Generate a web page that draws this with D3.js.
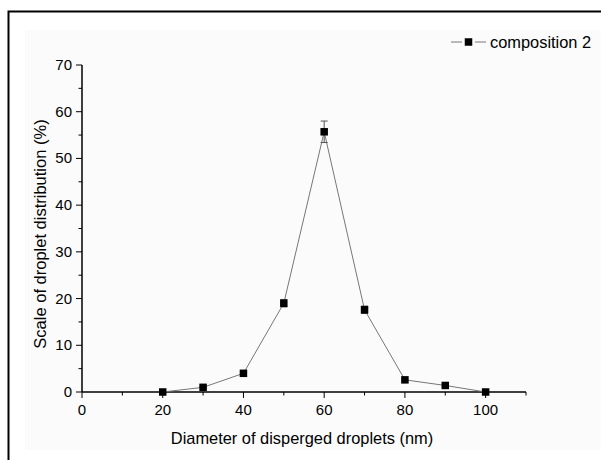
<!DOCTYPE html>
<html>
<head>
<meta charset="utf-8">
<script src="https://cdn.jsdelivr.net/npm/d3@7"></script>
<style>
  body { margin: 0; background: #fff; }
  text { font-family: "Liberation Sans", Arial, sans-serif; }
</style>
</head>
<body>
<script>
const diameters = [20, 30, 40, 50, 60, 70, 80, 90, 100];
const shares = [0, 1.0, 4.0, 19.0, 55.7, 17.6, 2.6, 1.4, 0];
const errors = [0, 0.2, 0.3, 0.8, 2.3, 0.8, 0.2, 0.2, 0];
const xTicks = [0, 20, 40, 60, 80, 100];
const yTicks = [0, 10, 20, 30, 40, 50, 60, 70];
const seriesName = "composition 2";

document.addEventListener("DOMContentLoaded", () => {
  const w = 601;
  const h = 460;

  const svg = d3.select("body")
  .append("svg")
  .attr("width", w)
  .attr("height", h);

  // faint panel behind the plot
  svg.append("rect")
  .attr("x", 25)
  .attr("y", 30)
  .attr("width", 600)
  .attr("height", 420)
  .attr("fill", "#fbfbfb");

  // outer frame, runs off right and bottom edges
  svg.append("rect")
  .attr("x", 8.5)
  .attr("y", 11.5)
  .attr("width", 620)
  .attr("height", 480)
  .attr("fill", "none")
  .attr("stroke", "#000")
  .attr("stroke-width", 2);

  const x = d3.scaleLinear().domain([0, 110]).range([82, 526]);
  const y = d3.scaleLinear().domain([0, 70]).range([392, 65]);

  const data = diameters.map((d, i) => ({x: d, y: shares[i], e: errors[i]}));

  // x axis with minor ticks
  const gx = svg.append("g").attr("transform", `translate(0,${y(0)})`);
  gx.append("line")
  .attr("x1", x(0)).attr("x2", x(110))
  .attr("stroke", "#000").attr("stroke-width", 1.5);
  gx.selectAll(".minor")
  .data(d3.range(10, 111, 20))
  .enter()
  .append("line")
  .attr("x1", (d) => x(d)).attr("x2", (d) => x(d))
  .attr("y1", 0).attr("y2", 3.5)
  .attr("stroke", "#000");
  gx.selectAll(".major")
  .data(xTicks)
  .enter()
  .append("line")
  .attr("x1", (d) => x(d)).attr("x2", (d) => x(d))
  .attr("y1", 0).attr("y2", 6)
  .attr("stroke", "#000");
  gx.selectAll("text")
  .data(xTicks)
  .enter()
  .append("text")
  .attr("x", (d) => x(d))
  .attr("y", 23)
  .attr("text-anchor", "middle")
  .style("font-size", "15px")
  .text((d) => d);

  // y axis with minor ticks
  const gy = svg.append("g").attr("transform", `translate(${x(0)},0)`);
  gy.append("line")
  .attr("y1", y(0)).attr("y2", y(70))
  .attr("stroke", "#000").attr("stroke-width", 1.5);
  gy.selectAll(".minor")
  .data(d3.range(5, 70, 10))
  .enter()
  .append("line")
  .attr("y1", (d) => y(d)).attr("y2", (d) => y(d))
  .attr("x1", 0).attr("x2", -3.5)
  .attr("stroke", "#000");
  gy.selectAll(".major")
  .data(yTicks)
  .enter()
  .append("line")
  .attr("y1", (d) => y(d)).attr("y2", (d) => y(d))
  .attr("x1", 0).attr("x2", -6)
  .attr("stroke", "#000");
  gy.selectAll("text")
  .data(yTicks)
  .enter()
  .append("text")
  .attr("x", -10)
  .attr("y", (d) => y(d) + 5)
  .attr("text-anchor", "end")
  .style("font-size", "15px")
  .text((d) => d);

  // axis titles
  svg.append("text")
  .attr("x", 302)
  .attr("y", 444)
  .attr("text-anchor", "middle")
  .style("font-size", "16.4px")
  .text("Diameter of disperged droplets (nm)");

  svg.append("text")
  .attr("transform", "translate(46,234) rotate(-90)")
  .attr("text-anchor", "middle")
  .style("font-size", "16.5px")
  .text("Scale of droplet distribution (%)");

  // line
  const line = d3.line().x((d) => x(d.x)).y((d) => y(d.y));
  svg.append("path")
  .datum(data)
  .attr("d", line)
  .attr("fill", "none")
  .attr("stroke", "#777")
  .attr("stroke-width", 1);

  // error bars
  const eb = svg.selectAll(".err")
  .data(data.filter((d) => d.e > 0))
  .enter()
  .append("g")
  .attr("stroke", "#555")
  .attr("stroke-width", 1);
  eb.append("line")
  .attr("x1", (d) => x(d.x)).attr("x2", (d) => x(d.x))
  .attr("y1", (d) => y(d.y + d.e)).attr("y2", (d) => y(d.y - d.e));
  eb.append("line")
  .attr("x1", (d) => x(d.x) - 3.5).attr("x2", (d) => x(d.x) + 3.5)
  .attr("y1", (d) => y(d.y + d.e)).attr("y2", (d) => y(d.y + d.e));
  eb.append("line")
  .attr("x1", (d) => x(d.x) - 3.5).attr("x2", (d) => x(d.x) + 3.5)
  .attr("y1", (d) => y(d.y - d.e)).attr("y2", (d) => y(d.y - d.e));

  // markers
  const s = 7.5;
  svg.selectAll(".pt")
  .data(data)
  .enter()
  .append("rect")
  .attr("x", (d) => x(d.x) - s / 2)
  .attr("y", (d) => y(d.y) - s / 2)
  .attr("width", s)
  .attr("height", s)
  .attr("fill", "#000");

  // legend: short line, gap, square, gap, short line
  const lg = svg.append("g").attr("transform", "translate(451,42)");
  lg.append("line")
  .attr("x1", 0).attr("x2", 11)
  .attr("stroke", "#777");
  lg.append("line")
  .attr("x1", 24).attr("x2", 35)
  .attr("stroke", "#777");
  lg.append("rect")
  .attr("x", 17.5 - s / 2).attr("y", -s / 2)
  .attr("width", s).attr("height", s)
  .attr("fill", "#000");
  lg.append("text")
  .attr("x", 39)
  .attr("y", 6)
  .style("font-size", "16.4px")
  .text(seriesName);
});
</script>
</body>
</html>
